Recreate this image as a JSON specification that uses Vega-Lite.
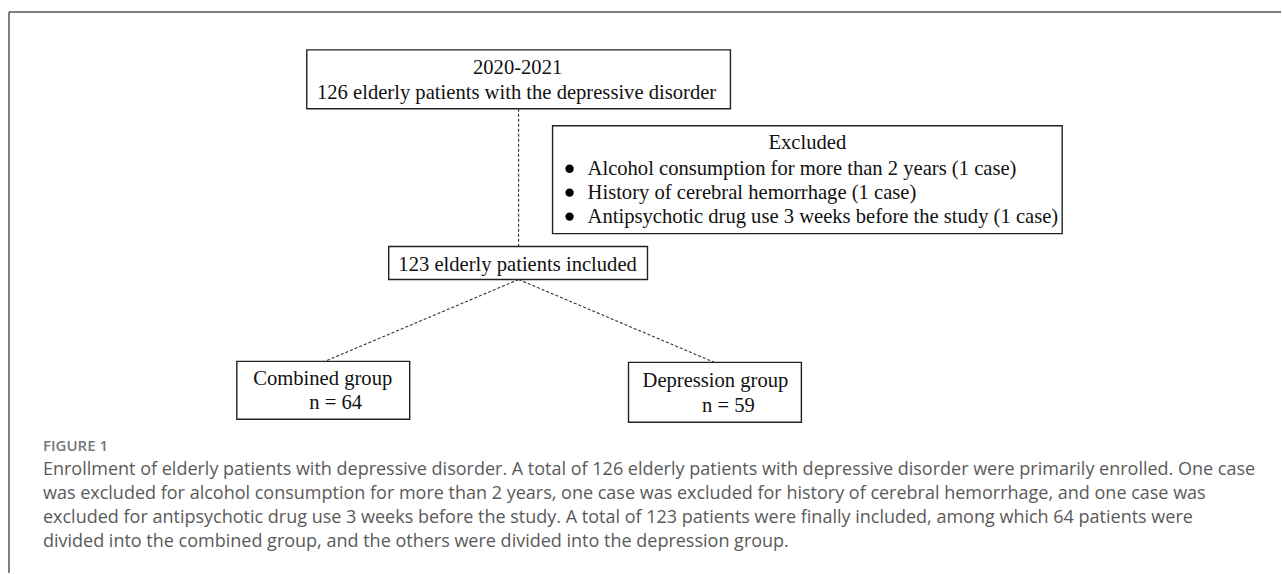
{
  "$schema": "https://vega.github.io/schema/vega-lite/v6.json",
  "width": 1282,
  "height": 574,
  "autosize": {"type": "fit", "contains": "padding"},
  "padding": 0,
  "background": "white",
  "config": {"view": {"stroke": null}},
  "datasets": {
    "frame": [
      {"x": 9, "y": 12, "x2": 1282, "y2": 12},
      {"x": 9, "y": 12, "x2": 9, "y2": 574}
    ],
    "boxes": [
      {"x": 307, "x2": 731, "y": 50, "y2": 109},
      {"x": 553, "x2": 1063, "y": 126, "y2": 234},
      {"x": 389, "x2": 648, "y": 247, "y2": 280},
      {"x": 237, "x2": 410, "y": 362, "y2": 420},
      {"x": 629, "x2": 802, "y": 363, "y2": 423}
    ],
    "links": [
      {"x": 519, "y": 109, "x2": 519, "y2": 247},
      {"x": 519, "y": 280, "x2": 325, "y2": 362},
      {"x": 519, "y": 280, "x2": 715, "y2": 363}
    ],
    "centerText": [
      {"x": 518, "y": 74, "label": "2020-2021"},
      {"x": 517, "y": 99, "label": "126 elderly patients with the depressive disorder"},
      {"x": 808, "y": 149, "label": "Excluded"},
      {"x": 518, "y": 271, "label": "123 elderly patients included"},
      {"x": 323, "y": 386, "label": "Combined group"},
      {"x": 336, "y": 410, "label": "n = 64"},
      {"x": 716, "y": 388, "label": "Depression group"},
      {"x": 729, "y": 413, "label": "n = 59"}
    ],
    "bullets": [
      {"x": 570, "y": 169, "label": "Alcohol consumption for more than 2 years (1 case)"},
      {"x": 570, "y": 193, "label": "History of cerebral hemorrhage (1 case)"},
      {"x": 570, "y": 217, "label": "Antipsychotic drug use 3 weeks before the study (1 case)"}
    ],
    "bulletText": [
      {"x": 588, "y": 175, "label": "Alcohol consumption for more than 2 years (1 case)"},
      {"x": 588, "y": 199, "label": "History of cerebral hemorrhage (1 case)"},
      {"x": 588, "y": 223, "label": "Antipsychotic drug use 3 weeks before the study (1 case)"}
    ],
    "figLabel": [
      {"x": 43, "y": 452, "label": "FIGURE 1"}
    ],
    "caption": [
      {"x": 43, "y": 476, "label": "Enrollment of elderly patients with depressive disorder. A total of 126 elderly patients with depressive disorder were primarily enrolled. One case"},
      {"x": 43, "y": 500, "label": "was excluded for alcohol consumption for more than 2 years, one case was excluded for history of cerebral hemorrhage, and one case was"},
      {"x": 43, "y": 524, "label": "excluded for antipsychotic drug use 3 weeks before the study. A total of 123 patients were finally included, among which 64 patients were"},
      {"x": 43, "y": 548, "label": "divided into the combined group, and the others were divided into the depression group."}
    ]
  },
  "encoding": {
    "x": {"field": "x", "type": "quantitative", "scale": {"domain": [0, 1282], "nice": false, "zero": false}, "axis": null},
    "y": {"field": "y", "type": "quantitative", "scale": {"domain": [0, 574], "reverse": true, "nice": false, "zero": false}, "axis": null}
  },
  "layer": [
    {
      "data": {"name": "frame"},
      "mark": {"type": "rule", "color": "#555555", "strokeWidth": 1.5},
      "encoding": {"x2": {"field": "x2"}, "y2": {"field": "y2"}}
    },
    {
      "data": {"name": "boxes"},
      "mark": {"type": "rect", "fill": "white", "stroke": "#222222", "strokeWidth": 1.4},
      "encoding": {"x2": {"field": "x2"}, "y2": {"field": "y2"}}
    },
    {
      "data": {"name": "links"},
      "mark": {"type": "rule", "color": "#333333", "strokeWidth": 1.1, "strokeDash": [3, 2]},
      "encoding": {"x2": {"field": "x2"}, "y2": {"field": "y2"}}
    },
    {
      "data": {"name": "centerText"},
      "mark": {"type": "text", "align": "center", "baseline": "alphabetic", "font": "Liberation Serif", "fontSize": 20.6, "color": "#111111"},
      "encoding": {"text": {"field": "label"}}
    },
    {
      "data": {"name": "bullets"},
      "mark": {"type": "point", "shape": "circle", "filled": true, "size": 70, "color": "#000000", "opacity": 1},
      "encoding": {}
    },
    {
      "data": {"name": "bulletText"},
      "mark": {"type": "text", "align": "left", "baseline": "alphabetic", "font": "Liberation Serif", "fontSize": 20.6, "color": "#111111"},
      "encoding": {"text": {"field": "label"}}
    },
    {
      "data": {"name": "figLabel"},
      "mark": {"type": "text", "align": "left", "baseline": "alphabetic", "font": "Open Sans", "fontSize": 15, "fontWeight": 600, "color": "#777777"},
      "encoding": {"text": {"field": "label"}}
    },
    {
      "data": {"name": "caption"},
      "mark": {"type": "text", "align": "left", "baseline": "alphabetic", "font": "Open Sans", "fontSize": 18, "color": "#5a5a5a"},
      "encoding": {"text": {"field": "label"}}
    }
  ]
}
